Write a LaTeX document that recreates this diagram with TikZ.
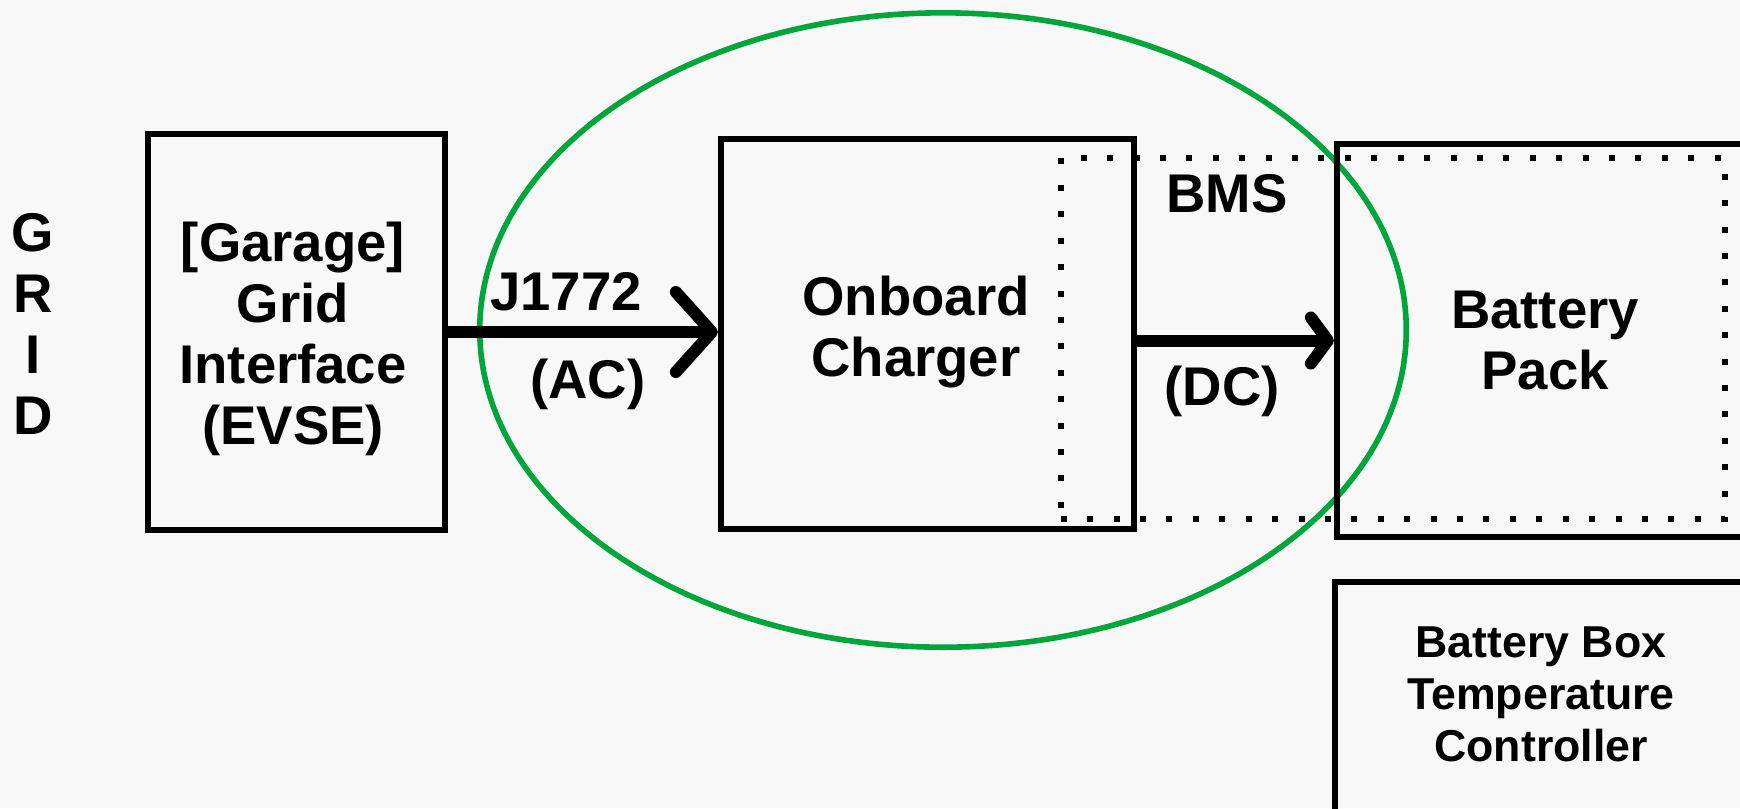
\documentclass[tikz,border=0pt]{standalone}
\usepackage{fontspec}
\setmainfont{Liberation Sans}
\usepackage{tikz}
\usetikzlibrary{arrows.meta}

\definecolor{bgpaper}{RGB}{249,248,249}
\definecolor{scopegreen}{RGB}{0,166,57}
\newcommand{\lblfont}{\fontsize{15.5}{17.4}\selectfont\bfseries}
\newcommand{\smlfont}{\fontsize{12.7}{14.8}\selectfont\bfseries}

\begin{document}
\begin{tikzpicture}[
    x=0.01cm, y=-0.01cm,
    blk/.style={draw, line width=0.06cm, inner sep=0pt},
    bmsbox/.style={draw, line width=0.06cm,
                   dash pattern=on 0.06cm off 0.204cm, inner sep=0pt},
    lbl/.style={font=\lblfont, align=center, inner sep=0pt},
    lblsm/.style={font=\smlfont, align=center, inner sep=0pt},
    flow/.style={line width=0.12cm}
  ]
    \fill[bgpaper] (0,0) rectangle (1740,808);
    \clip (0,0) rectangle (1740,808);
    % charging scope
    \draw[scopegreen, line width=0.056cm] (943,330)
      ellipse [x radius=4.63cm, y radius=3.17cm];
    % blocks
    \node[lbl] (grid) at (33,324) {G\\R\\I\\D};
    \node[blk, minimum width=2.97cm, minimum height=3.96cm] (evse) at (296.5,332) {};
    \node[lbl] (evsetxt) at (293,339) {[Garage]\\Grid\\Interface\\(EVSE)};
    \node[blk, minimum width=4.13cm, minimum height=3.90cm] (charger) at (927.5,334) {};
    \node[lbl] (chgtxt) at (916,332) {Onboard\\Charger};
    \node[blk, lbl, minimum width=4.16cm, minimum height=3.93cm] (battery) at (1545,340.5) {Battery\\Pack};
    \node[bmsbox, minimum width=6.64cm, minimum height=3.61cm] (bms) at (1393,338.5) {};
    \node[lbl] (bmslbl) at (1227,194) {BMS};
    \node[blk, minimum width=4.12cm, minimum height=3cm] (tempbox) at (1541,732) {};
    \node[lblsm] (templbl) at (1541,694.5) {Battery Box\\Temperature\\Controller};
    % power flow
    \draw[flow, -{Straight Barb[length=0.36cm, width=0.8cm, line width=0.12cm, round]}]
      (evse.east) -- (evse.east -| charger.west);
    \node[lbl] (j1772) at (566,292) {J1772};
    \node[lbl] (ac) at (588,384) {(AC)};
    \draw[flow, -{Straight Barb[length=0.17cm, width=0.46cm, line width=0.12cm, round]}]
      (charger.east |- battery.west) -- (battery.west);
    \node[lbl] (dc) at (1222,391) {(DC)};
\end{tikzpicture}
\end{document}
